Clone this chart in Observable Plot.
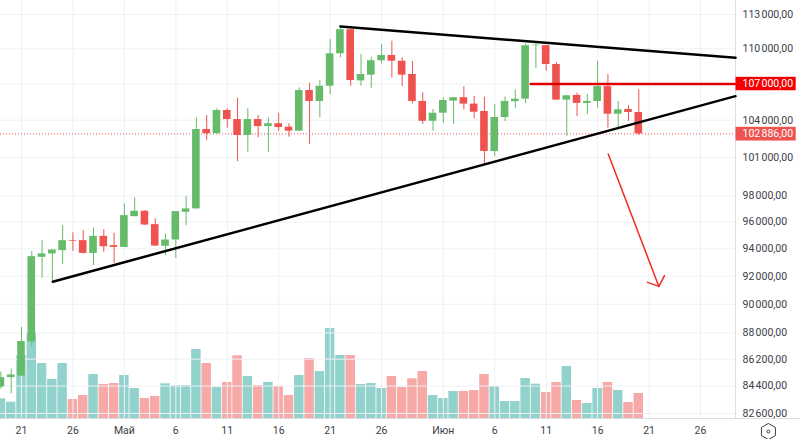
<!DOCTYPE html>
<html>
<head>
<meta charset="utf-8">
<script src="https://cdn.jsdelivr.net/npm/d3@7"></script>
<script src="https://cdn.jsdelivr.net/npm/@observablehq/plot@0.6"></script>
<style>
  html, body { margin: 0; padding: 0; background: #fff; }
  #chart { position: relative; width: 800px; height: 439px; overflow: hidden; }
  #chart svg { position: absolute; left: 0; top: 0; background: transparent; }
</style>
</head>
<body>
<div id="chart"></div>
<script>
// days counted from 21 April, the first candle sits two days before that
const firstDay = -2
const open = [84330, 84960, 85070, 87380, 93380, 93630, 93870, 94610, 94610, 93670, 94930, 94240, 94110, 96410, 96820, 95810, 94190, 94660, 96740, 97000, 103240, 102900, 104790, 104050, 102760, 104050, 103480, 103710, 103430, 103110, 106450, 105540, 106810, 109570, 111660, 107260, 107740, 108970, 109420, 108930, 107800, 105540, 103910, 104570, 105570, 105850, 105320, 104710, 101470, 104220, 105520, 105730, 110260, 110270, 108650, 105650, 106040, 105380, 105540, 106780, 104490, 104880, 104630]
const high = [85340, 85530, 88370, 93800, 94610, 93940, 95730, 95190, 95360, 95560, 95430, 95160, 97380, 97840, 96870, 96240, 95110, 96800, 97940, 104190, 104380, 104940, 104940, 105810, 104940, 104380, 104190, 104570, 103700, 106680, 107060, 107290, 110810, 112040, 111670, 109510, 109280, 110370, 110660, 109220, 108910, 106260, 104880, 105850, 105860, 106780, 105960, 105900, 105290, 105900, 106510, 110430, 110430, 110280, 108800, 106060, 106230, 106120, 108930, 107800, 105540, 105210, 106510]
const low = [84200, 83890, 85040, 87040, 91870, 91560, 92840, 93820, 93630, 92770, 93740, 92940, 94100, 96400, 95730, 94180, 93500, 93300, 95730, 96990, 102360, 102890, 103350, 100670, 101410, 102570, 101410, 103080, 102620, 103100, 102040, 104190, 106120, 109220, 106810, 106810, 106640, 108710, 107490, 106780, 105350, 103650, 103110, 103750, 103650, 104850, 104110, 100440, 101060, 103890, 104940, 105350, 108310, 108080, 105620, 102700, 104300, 104460, 104990, 103350, 103430, 103890, 102760]
const close = [84960, 85140, 87400, 93430, 93630, 93920, 94610, 94560, 93670, 94930, 94160, 94110, 96490, 96820, 95780, 94210, 94660, 96790, 97000, 103240, 102900, 104790, 104050, 102760, 104050, 103480, 103710, 103400, 103110, 106450, 105540, 106810, 109570, 111660, 107290, 107800, 108970, 109420, 108930, 107740, 105540, 103910, 104570, 105620, 105850, 105320, 104650, 101470, 104220, 105540, 105730, 110260, 110310, 108650, 105650, 106010, 105380, 105540, 106780, 104490, 104850, 104630, 102886]
const volume = [1970, 1630, 6300, 8600, 5500, 3900, 5500, 1900, 2300, 4400, 3400, 3500, 4300, 3000, 2000, 2200, 3470, 3270, 3300, 6900, 5500, 3100, 3600, 6270, 4200, 3300, 3600, 3200, 2300, 4300, 6000, 4700, 9000, 6300, 6300, 3400, 3500, 3000, 4200, 3100, 3970, 4700, 2300, 2000, 2700, 2700, 2800, 4400, 3200, 1700, 1700, 4000, 3430, 2600, 3600, 5200, 1800, 1500, 3000, 3600, 2800, 1600, 2500]

const priceTicks = [113000, 110000, 107000, 104000, 101000, 98000, 96000, 94000, 92000, 90000, 88000, 86200, 84400, 82600]
const dayTicks = [0, 5, 10, 15, 20, 25, 30, 35, 41, 46, 51, 56, 61, 66]
const dayLabels = ["21", "26", "Май", "6", "11", "16", "21", "26", "Июн", "6", "11", "16", "21", "26"]

// drawings on top of the candles: [day, price]
const upperLine = [[31, 111950], [69.4, 109220]]
const lowerLine = [[3.04, 91610], [69.4, 105980]]
const levelLine = [[49.5, 107000], [69.4, 107000]]
const arrowLine = [[57.03, 101280], [61.95, 91270]]
const arrowHead = [[60.85, 91560], [61.95, 91270], [62.5, 92040]]
const iconSpot = [[72.6, 81440]]

const lastPrice = 102886
const levelPrice = 107000

const up = "#66bb6a"
const down = "#ef5350"
const font = "Roboto, sans-serif"
const xDomain = [-2.04, 69.4]
const priceFormat = d => d3.format(",.2f")(d).replace(/,/g, "\u202f").replace(".", ",")

const candles = open.map((o, i) => ({
  day: firstDay + i, open: o, high: high[i], low: low[i], close: close[i], volume: volume[i]
}))

// volume sits behind the candles with its own linear scale
const volumePlot = Plot.plot({
  width: 800,
  height: 439,
  marginTop: 0,
  marginLeft: 0,
  marginRight: 65,
  marginBottom: 21,
  x: { type: "linear", domain: xDomain, axis: null },
  y: { domain: [0, 41800], axis: null },
  marks: [
    Plot.rectY(candles, {
      x1: d => d.day - 0.46,
      x2: d => d.day + 0.46,
      y: "volume",
      fill: d => d.close >= d.open ? "#92d2cc" : "#f7a9a7"
    })
  ]
})

const candlePlot = Plot.plot({
  width: 800,
  height: 439,
  marginTop: 0,
  marginLeft: 0,
  marginRight: 65,
  marginBottom: 21,
  style: { fontFamily: font, fontSize: "10.5px", color: "#3a3e48", background: "transparent" },
  x: { type: "linear", domain: xDomain, label: null },
  y: { type: "log", domain: [114250, 82276], range: [0, 418], label: null },
  marks: [
    Plot.ruleX(dayTicks, { stroke: "#eef0f4" }),
    Plot.ruleY(priceTicks, { stroke: "#eef0f4" }),
    Plot.ruleX([xDomain[1]], { stroke: "#dcdee3" }),
    Plot.ruleY([82276], { x1: -2.04, x2: 75.7, stroke: "#dcdee3" }),
    Plot.axisX({ ticks: dayTicks, tickFormat: d => dayLabels[dayTicks.indexOf(d)], tickSize: 0, tickPadding: 8, label: null }),
    Plot.axisY({ anchor: "right", ticks: priceTicks, tickFormat: priceFormat, tickSize: 0, tickPadding: 7, label: null }),

    Plot.ruleY([lastPrice], { stroke: down, strokeWidth: 1, strokeDasharray: "1,2" }),
    Plot.ruleX(candles, {
      x: "day", y1: "low", y2: "high",
      stroke: d => d.close >= d.open ? up : down,
      strokeWidth: 1
    }),
    Plot.rect(candles, {
      x1: d => d.day - 0.37,
      x2: d => d.day + 0.37,
      y1: "open",
      y2: "close",
      fill: d => d.close >= d.open ? up : down
    }),

    Plot.line(upperLine, { x: "0", y: "1", stroke: "black", strokeWidth: 2.5 }),
    Plot.line(lowerLine, { x: "0", y: "1", stroke: "black", strokeWidth: 2.5 }),
    Plot.line(levelLine, { x: "0", y: "1", stroke: "#e00000", strokeWidth: 2.5 }),
    Plot.line(arrowLine, { x: "0", y: "1", stroke: "#ee2c22", strokeWidth: 1.5 }),
    Plot.line(arrowHead, { x: "0", y: "1", stroke: "#ee2c22", strokeWidth: 1.5 }),

    // price tags in the right margin
    Plot.rect([levelPrice], { x1: 69.45, x2: 75.3, y1: 107560, y2: 106430, fill: "#f50000" }),
    Plot.text([levelPrice], { x: 69.4, y: d => d, dx: 7, text: priceFormat, textAnchor: "start", fill: "white" }),
    Plot.rect([lastPrice], { x1: 69.45, x2: 75.3, y1: 103420, y2: 102310, fill: down }),
    Plot.text([lastPrice], { x: 69.4, y: d => d, dx: 7, text: priceFormat, textAnchor: "start", fill: "white" }),

    // scale settings icon in the corner
    Plot.dot(iconSpot, { x: "0", y: "1", symbol: "hexagon", r: 7, stroke: "#3a3e48", strokeWidth: 1 }),
    Plot.dot(iconSpot, { x: "0", y: "1", r: 1.5, stroke: "#3a3e48", strokeWidth: 1 })
  ]
})

d3.select("#chart").append(() => volumePlot)
d3.select("#chart").append(() => candlePlot)
</script>
</body>
</html>
